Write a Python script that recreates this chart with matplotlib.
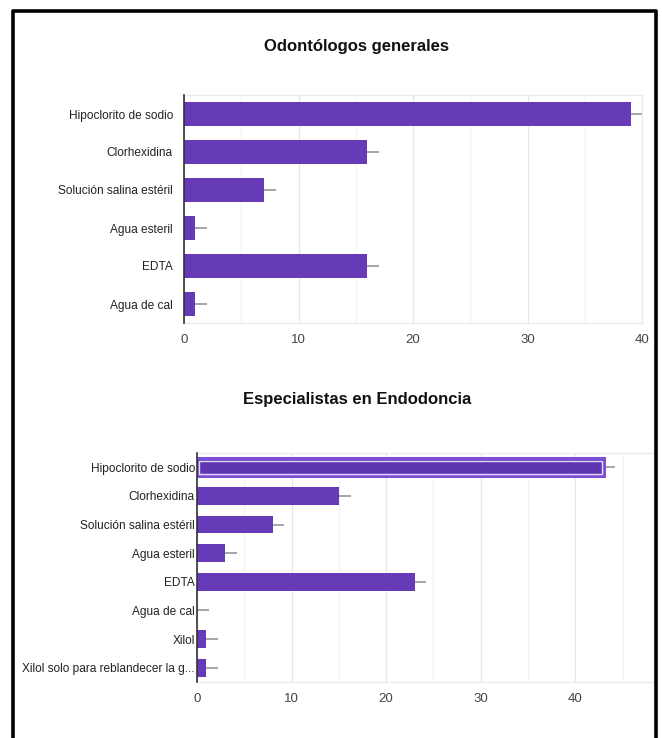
import matplotlib
matplotlib.use("Agg")
import matplotlib.pyplot as plt
from matplotlib.lines import Line2D

# ---- data ----
TITLE_TOP = "Odontólogos generales"
CATS_TOP = ["Hipoclorito de sodio", "Clorhexidina", "Solución salina estéril",
            "Agua esteril", "EDTA", "Agua de cal"]
VALS_TOP = [39, 16, 7, 1, 16, 1]
ERR_TOP = 1.0

TITLE_BOT = "Especialistas en Endodoncia"
CATS_BOT = ["Hipoclorito de sodio", "Clorhexidina", "Solución salina estéril",
            "Agua esteril", "EDTA", "Agua de cal", "Xilol",
            "Xilol solo para reblandecer la g..."]
VALS_BOT = [43, 15, 8, 3, 23, 0, 1, 1]
ERR_BOT = 1.25

XTICKS = [0, 10, 20, 30, 40]

BAR = "#673ab7"
WHISKER = "#9e9e9e"

plt.rcParams["font.family"] = ["Liberation Sans", "DejaVu Sans"]

W, H = 662, 738
fig = plt.figure(figsize=(W / 100, H / 100), dpi=100)


def px_box(x0, y0, x1, y1):
    return [x0 / W, 1 - y1 / H, (x1 - x0) / W, (y1 - y0) / H]


def draw(ax, cats, vals, err, xmax, label_pad, highlight=None):
    n = len(cats)
    ys = list(range(n))
    ax.errorbar(vals, ys, xerr=[[0] * n, [err] * n], fmt="none",
                ecolor=WHISKER, elinewidth=1.3, capsize=0, zorder=2)
    bars = ax.barh(ys, vals, height=0.62, color=BAR, zorder=3)
    if highlight is not None:
        b = bars[highlight]
        b.set_facecolor("#5e35b1")
        b.set_edgecolor("#7c4fd6")
        b.set_linewidth(2.2)
        ax.barh(highlight, vals[highlight] - 0.35, left=0.2, height=0.47,
                color="none", edgecolor="#e6dbfa", linewidth=1.0, zorder=4)
    ax.set_ylim(n - 0.5, -0.5)
    ax.set_xlim(0, xmax)
    ax.set_yticks(ys)
    ax.set_yticklabels(cats, fontsize=8.6, color="#222222")
    ax.set_xticks(XTICKS)
    ax.set_xticks([v for v in range(5, int(xmax) + 1, 10)], minor=True)
    ax.tick_params(axis="both", which="both", length=0)
    ax.tick_params(axis="y", pad=label_pad)
    ax.tick_params(axis="x", labelsize=9.5, labelcolor="#444444", pad=8)
    ax.grid(axis="x", which="major", color="#e6e6e6", lw=0.9, zorder=0)
    ax.grid(axis="x", which="minor", color="#f3f3f3", lw=0.9, zorder=0)
    ax.set_axisbelow(True)
    for s in ("top", "bottom", "right"):
        ax.spines[s].set_color("#ebebeb")
        ax.spines[s].set_linewidth(0.9)
    ax.spines["left"].set_color("#333333")
    ax.spines["left"].set_linewidth(1.2)
    ax.spines["left"].set_zorder(5)


ax1 = fig.add_axes(px_box(184, 95, 642, 323))
draw(ax1, CATS_TOP, VALS_TOP, ERR_TOP, 40, label_pad=8)

ax2 = fig.add_axes(px_box(197, 453, 655, 682))
draw(ax2, CATS_BOT, VALS_BOT, ERR_BOT, (655 - 197) / 9.457, label_pad=1.5,
     highlight=0)
ax2.spines["right"].set_visible(False)

fig.text(357 / W, 1 - 46 / H, TITLE_TOP, ha="center", va="center",
         fontsize=12, fontweight="bold", color="#111111")
fig.text(357 / W, 1 - 400 / H, TITLE_BOT, ha="center", va="center",
         fontsize=12, fontweight="bold", color="#111111")

# black frame (open at the bottom)
xs = [12.5 / W, 12.5 / W, 655.5 / W, 655.5 / W]
ys = [0, 1 - 10.5 / H, 1 - 10.5 / H, 0]
fig.add_artist(Line2D(xs, ys, color="black", lw=2.6, transform=fig.transFigure))

fig.savefig("out.png", dpi=100)
